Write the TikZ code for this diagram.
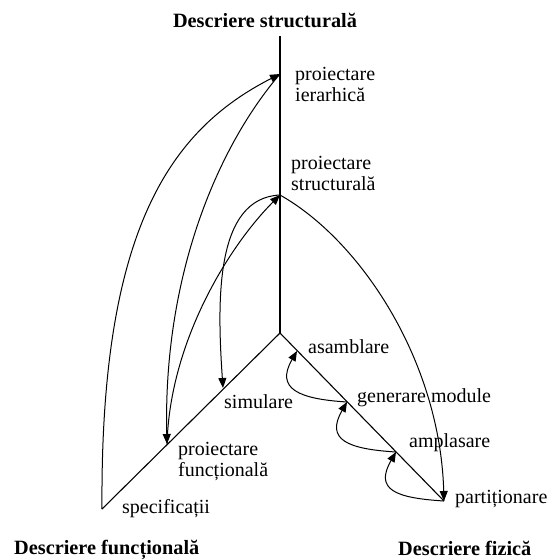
\documentclass[tikz,border=0pt]{standalone}
\usepackage{fontspec}
\setmainfont{Liberation Serif}
\usetikzlibrary{arrows.meta}
\begin{document}
\begin{tikzpicture}[x=1pt,y=-1pt,
  mainaxis/.style={line width=1.7pt},
  axis/.style={line width=1.1pt},
  flow/.style={line width=1pt,-{Triangle[length=10pt,width=8pt]}},
  lbl/.style={font=\fontsize{20}{21}\selectfont, inner sep=0pt, anchor=base west, align=left},
  heading/.style={font=\fontsize{20.3}{21}\selectfont\bfseries, inner sep=0pt, anchor=base west}]
\useasboundingbox (0,0) rectangle (552,560);

% axes of the chart
\coordinate (O)   at (280,333);
\coordinate (T)   at (280,36);
\coordinate (H)   at (280,74);
\coordinate (S)   at (280,195);
\coordinate (F)   at (102,509);
\coordinate (PF)  at (167,444);
\coordinate (SIM) at (223,388);
\coordinate (A)   at (297,351);
\coordinate (G)   at (347,402);
\coordinate (Am)  at (396,452);
\coordinate (P)   at (444,501);

\draw[mainaxis] (T) -- (O);
\draw[axis] (O) -- (F);
\draw[axis] (O) -- (P);

% axis headings
\node[heading, anchor=base] (hs) at (265,27) {Descriere structurală};
\node[heading] (hf) at (14,554) {Descriere funcțională};
\node[heading] (hp) at (398,555) {Descriere fizică};

% step labels (two-line labels are placed by their last line)
\node[lbl] (lH)   at (295,101) {proiectare\\ierarhică};
\node[lbl] (lS)   at (291,190) {proiectare\\structurală};
\node[lbl] (lSIM) at (224,408) {simulare};
\node[lbl] (lPF)  at (178,476) {proiectare\\funcțională};
\node[lbl] (lF)   at (122,513) {specificații};
\node[lbl] (lA)   at (308,353) {asamblare};
\node[lbl] (lG)   at (357,402) {generare module};
\node[lbl] (lAm)  at (409,447) {amplasare};
\node[lbl] (lP)   at (455,503) {partiționare};

% design flow
\draw[flow] (F) .. controls +(-2,-279) and +(-110,56) .. (H);
\draw[flow] (H) .. controls +(-65,76) and +(-4,-164) .. (PF);
\draw[flow] (PF) .. controls +(3,-104) and +(-50,50) .. (S);
\draw[flow] (S) .. controls +(-65,3) and +(-6,-88) .. (SIM);
\draw[flow] (S) .. controls +(80,45) and +(-4,-141) .. (P);
\draw[flow] (P) .. controls +(-48,-3) and +(-22,38) .. (Am);
\draw[flow] (Am) .. controls +(-48,-3) and +(-22,38) .. (G);
\draw[flow] (G) .. controls +(-48,-3) and +(-22,38) .. (A);
\end{tikzpicture}
\end{document}
